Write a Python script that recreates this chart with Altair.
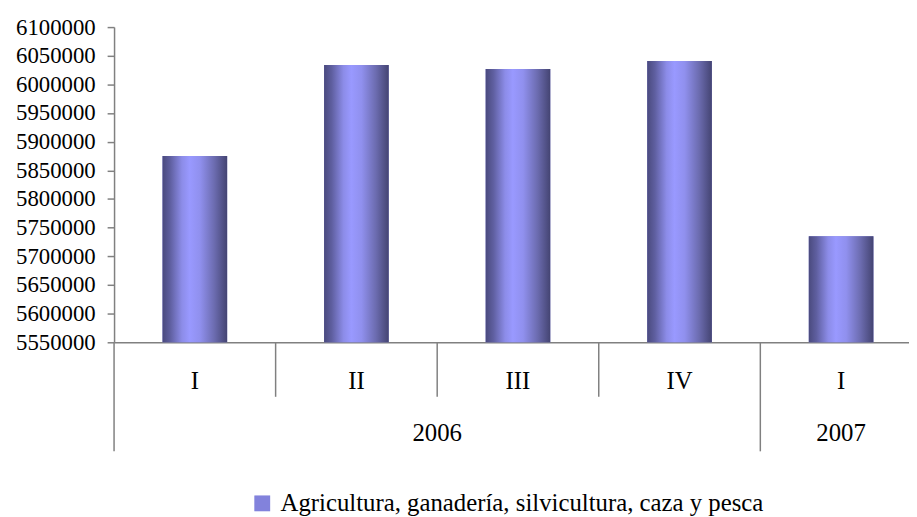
import altair as alt
import pandas as pd

# ---- data ----
quarters = ["I", "II", "III", "IV", "I"]
years = ["2006", "2006", "2006", "2006", "2007"]
values = [5875000, 6034000, 6027000, 6041000, 5735000]
series_name = "Agricultura, ganadería, silvicultura, caza y pesca"
y_ticks = [5550000, 5600000, 5650000, 5700000, 5750000, 5800000,
           5850000, 5900000, 5950000, 6000000, 6050000, 6100000]

# ---- tables built from the lists ----
bars = pd.DataFrame({
    "idx": list(range(len(quarters))),
    "quarter": quarters,
    "year": years,
    "value": values,
    "series": [series_name] * len(quarters),
})

year_rows = []
start = 0
for i in range(1, len(years) + 1):
    if i == len(years) or years[i] != years[start]:
        year_rows.append({"year": years[start], "start": start, "end": i,
                          "center": (start + i) / 2})
        start = i
year_df = pd.DataFrame(year_rows)
year_bounds = pd.DataFrame({"b": sorted(set([r["start"] for r in year_rows] + [r["end"] for r in year_rows]))})
quarter_bounds = pd.DataFrame({"b": [i for i in range(1, len(years)) if years[i] == years[i - 1]]})

FONT = "Liberation Serif"
AXIS_GRAY = "#808080"
W, H = 802, 318
xscale = alt.Scale(domain=[0, W / 163.0], nice=False, zero=False)
yscale = alt.Scale(domain=[5550000, 6100000], nice=False, zero=False)

gradient = alt.LinearGradient(
    gradient="linear",
    x1=0, x2=1, y1=0, y2=0,
    stops=[
        alt.GradientStop(color="#4a4a7e", offset=0),
        alt.GradientStop(color="#5f5fa0", offset=0.12),
        alt.GradientStop(color="#8c8ce8", offset=0.3),
        alt.GradientStop(color="#9999ff", offset=0.42),
        alt.GradientStop(color="#9090ee", offset=0.58),
        alt.GradientStop(color="#6c6cb0", offset=0.8),
        alt.GradientStop(color="#444472", offset=1),
    ],
)

x_axis = alt.Axis(labels=False, ticks=False, grid=False, title=None)
y_axis = alt.Axis(values=y_ticks, format="d", title=None, grid=False,
                  labelOverlap=False)

base = alt.Chart(bars).transform_calculate(
    x0="datum.idx + 0.3", x1="datum.idx + 0.7"
)

legend_bars = base.mark_bar().encode(
    x=alt.X("x0:Q", scale=xscale, axis=x_axis),
    x2="x1:Q",
    y=alt.Y("value:Q", scale=yscale, axis=y_axis),
    y2=alt.datum(5550000),
    color=alt.Color("series:N", scale=alt.Scale(range=["#8282dc"]),
                    legend=alt.Legend(orient="none", legendX=137, legendY=468,
                                      title=None, labelFont=FONT,
                                      labelFontSize=25)),
)

grad_bars = base.mark_bar(color=gradient).encode(
    x=alt.X("x0:Q", scale=xscale, axis=x_axis),
    x2="x1:Q",
    y=alt.Y("value:Q", scale=yscale, axis=y_axis),
    y2=alt.datum(5550000),
)

quarter_text = alt.Chart(bars).transform_calculate(
    c="datum.idx + 0.5"
).mark_text(font=FONT, fontSize=25, color="black", baseline="middle").encode(
    x=alt.X("c:Q", scale=xscale, axis=x_axis),
    y=alt.value(357),
    text="quarter:N",
)

year_text = alt.Chart(year_df).mark_text(
    font=FONT, fontSize=25, color="black", baseline="middle"
).encode(
    x=alt.X("center:Q", scale=xscale, axis=x_axis),
    y=alt.value(410),
    text="year:N",
)

q_rules = alt.Chart(quarter_bounds).mark_rule(color=AXIS_GRAY, strokeWidth=1.5).encode(
    x=alt.X("b:Q", scale=xscale, axis=x_axis),
    y=alt.value(H),
    y2=alt.value(373),
)

y_rules = alt.Chart(year_bounds).mark_rule(color=AXIS_GRAY, strokeWidth=1.5).encode(
    x=alt.X("b:Q", scale=xscale, axis=x_axis),
    y=alt.value(H),
    y2=alt.value(428),
)

chart = alt.layer(
    legend_bars, grad_bars, q_rules, y_rules, quarter_text, year_text
).properties(
    width=W, height=H,
    autosize=alt.AutoSizeParams(type="none"),
    padding={"left": 107, "top": 17, "right": 0, "bottom": 174},
).configure(
    background="white", font=FONT
).configure_view(
    strokeWidth=0, stroke="transparent"
).configure_axis(
    labelFont=FONT, labelFontSize=23, labelColor="black",
    tickSize=7, tickColor=AXIS_GRAY, tickWidth=1.5,
    domainColor=AXIS_GRAY, domainWidth=1.5, labelPadding=12, grid=False,
).configure_legend(
    labelFont=FONT, labelFontSize=25, labelColor="black", labelOffset=6,
    labelLimit=900, padding=0, symbolType="square", symbolSize=256,
    symbolStrokeWidth=0, symbolOpacity=1,
)

chart.save("out.html", embed_options={"renderer": "svg", "actions": False})
